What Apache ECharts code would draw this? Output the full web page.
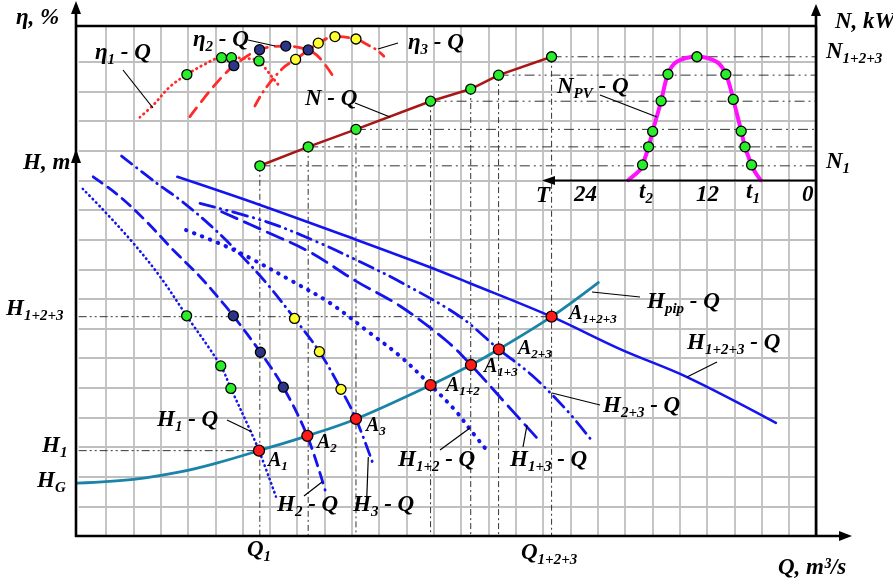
<!DOCTYPE html>
<html>
<head>
<meta charset="utf-8">
<script src="https://cdn.jsdelivr.net/npm/echarts@6/dist/echarts.min.js"></script>
<style>
  html, body { margin: 0; background: #fff; }
  #chart { width: 893px; height: 583px; }
</style>
</head>
<body>
<div id="chart"></div>
<script>
// units: one grid cell on each axis (Q across, H / η / N up)

// pump head curves
const h1Q = [[0.15, 11.71], [0.90, 11.00], [2.00, 9.88], [2.98, 8.75], [3.95, 7.43], [5.20, 5.74], [5.57, 4.98], [6.27, 3.58], [6.60, 2.88], [7.22, 1.33]];
const h2Q = [[0.53, 12.12], [1.51, 11.45], [2.49, 10.60], [3.46, 9.65], [4.44, 8.75], [5.29, 7.85], [5.66, 7.43], [6.65, 6.20], [7.49, 5.02], [8.36, 3.39], [9.02, 1.55]];
const h3Q = [[1.57, 12.82], [2.86, 11.90], [3.71, 11.34], [4.81, 10.49], [5.90, 9.51], [6.93, 8.47], [7.90, 7.34], [8.81, 6.22], [9.60, 4.95], [10.15, 3.95], [10.81, 2.34]];
const h12Q = [[3.93, 10.32], [5.28, 9.82], [6.27, 9.38], [7.73, 8.64], [9.20, 7.86], [10.66, 6.85], [11.76, 6.07], [12.88, 5.09], [13.77, 4.25], [14.40, 3.51], [14.87, 2.97]];
const h13Q = [[5.23, 10.94], [6.88, 10.26], [8.46, 9.58], [10.15, 8.60], [11.76, 7.76], [13.47, 6.58], [14.36, 5.77], [15.42, 4.69], [16.82, 3.26]];
const h23Q = [[4.44, 11.22], [6.88, 10.60], [8.71, 9.93], [10.30, 9.25], [11.76, 8.58], [13.96, 7.40], [15.38, 6.30], [16.58, 5.43], [17.86, 4.25], [18.84, 3.15]];
const h123Q = [[3.61, 12.12], [6.64, 11.17], [10.18, 9.99], [12.86, 9.07], [14.32, 8.53], [17.31, 7.40], [19.88, 6.28], [22.25, 5.37], [25.52, 3.82]];
const hPipQ = [[-0.10, 1.78], [2.00, 1.91], [3.71, 2.16], [5.05, 2.46], [6.60, 2.88], [8.37, 3.38], [10.15, 3.95], [12.88, 5.09], [14.36, 5.77], [15.38, 6.30], [17.31, 7.40], [19.02, 8.55]];

// efficiency curves
const eta1Q = [[2.24, 14.13], [2.73, 14.54], [3.34, 15.16], [3.96, 15.57], [4.56, 15.89], [5.23, 16.14], [5.59, 16.14], [6.02, 16.12], [6.60, 16.03], [6.88, 15.72], [7.12, 15.44], [7.31, 15.22]];
const eta2Q = [[4.07, 14.15], [4.93, 15.16], [5.68, 15.87], [6.62, 16.41], [7.58, 16.53], [8.40, 16.40], [8.83, 16.12], [9.32, 15.50]];
const eta3Q = [[6.45, 14.51], [6.82, 15.08], [7.49, 15.80], [7.94, 16.08], [8.77, 16.63], [9.38, 16.85], [10.15, 16.77], [10.52, 16.60], [10.91, 16.40], [11.17, 16.19]];

// power
const nQ = [[6.63, 12.49], [8.40, 13.13], [10.15, 13.72], [12.88, 14.67], [14.35, 15.08], [15.37, 15.55], [17.31, 16.17]];
const nPV = [[20.12, 12.01], [20.55, 12.35], [20.64, 12.52], [20.86, 13.13], [21.01, 13.65], [21.32, 14.68], [21.57, 15.58], [21.89, 16.00], [22.63, 16.17], [23.35, 16.00], [23.69, 15.58], [23.96, 14.73], [24.25, 13.66], [24.39, 13.13], [24.63, 12.52], [24.75, 12.29], [24.96, 12.01]];
const nPVPts = [[20.64, 12.52], [20.86, 13.13], [21.01, 13.65], [21.32, 14.68], [21.57, 15.58], [22.63, 16.17], [23.69, 15.58], [23.96, 14.73], [24.25, 13.66], [24.39, 13.13], [24.63, 12.52]];

// operating points A1, A2, A3, A1+2, A1+3, A2+3, A1+2+3
const aPts = [[6.60, 2.88], [8.37, 3.38], [10.15, 3.95], [12.88, 5.09], [14.36, 5.77], [15.38, 6.30], [17.31, 7.40]];
const aNames = ['1', '2', '3', '1+2', '1+3', '2+3', '1+2+3'];

// marked points
const greenPts = [[3.95, 7.43], [5.20, 5.74], [5.57, 4.98], [3.96, 15.57], [5.23, 16.14], [5.59, 16.14], [6.60, 16.03]];
const navyPts = [[5.66, 7.43], [6.65, 6.20], [7.49, 5.02], [5.68, 15.87], [6.62, 16.41], [7.58, 16.53], [8.40, 16.40]];
const yellowPts = [[7.90, 7.34], [8.81, 6.22], [9.60, 4.95], [7.94, 16.08], [8.77, 16.63], [9.38, 16.85], [10.15, 16.77]];

const BLUE = '#1414ee';
const RED = '#ff2a2a';
const F = 'Liberation Serif';

function curve(data, color, width, type, smooth) {
  return {
    type: 'line', data: data, symbol: 'none', smooth: smooth ? 0.35 : false, clip: false, silent: true, z: 3,
    lineStyle: { color: color, width: width, type: type, cap: 'round' }
  };
}
function dots(data, color, size) {
  return {
    type: 'scatter', data: data, symbolSize: size || 10, clip: false, silent: true, z: 6,
    itemStyle: { color: color, borderColor: '#000', borderWidth: 1.3, opacity: 1 }
  };
}
function ref(data, type) {
  return {
    type: 'line', data: data, symbol: 'none', clip: false, silent: true, z: 2,
    lineStyle: { color: '#333', width: 1, type: type }
  };
}

const series = [];
// guide lines
nQ.forEach(function (p, i) {
  series.push(ref([p, [p[0], 0]], [6, 3, 2, 3]));
  if (i !== 4) series.push(ref([p, [27, p[1]]], [10, 4, 2, 4, 2, 4]));
});
series.push(ref([[0, aPts[0][1]], aPts[0]], [8, 3, 2, 3, 2, 3]));
series.push(ref([[0, aPts[6][1]], aPts[6]], [8, 3, 2, 3, 2, 3]));

series.push(curve(h1Q, BLUE, 2.6, [0.5, 4.2], true));
series.push(curve(h2Q, BLUE, 2.8, [11, 7], true));
series.push(curve(h3Q, BLUE, 2.8, [13, 6, 0.5, 6], true));
series.push(curve(h12Q, BLUE, 4, [0.5, 8], true));
series.push(curve(h13Q, BLUE, 2.8, [17, 8], true));
series.push(curve(h23Q, BLUE, 2.8, [15, 6, 0.5, 6, 0.5, 6], true));
series.push(curve(h123Q, BLUE, 2.6, 'solid', true));
series.push(curve(hPipQ, '#1a84a8', 2.8, 'solid', true));

series.push(curve(eta1Q, RED, 2.8, [0.5, 4.5], true));
series.push(curve(eta2Q, RED, 2.8, [11, 8], true));
series.push(curve(eta3Q, RED, 2.8, [10, 6, 0.5, 6], true));

series.push(curve(nQ, '#a81616', 2.6, 'solid', false));
series.push(curve(nPV, '#ff10ff', 4, 'solid', true));

series.push(dots(greenPts, '#2aee2a'));
series.push(dots(navyPts, '#2c3587'));
series.push(dots(yellowPts, '#ffff30'));
series.push(dots(nQ, '#2aee2a'));
series.push(dots(nPVPts, '#2aee2a'));
series.push(dots(aPts, '#ff1a1a', 11));

// text
const R = {
  m: { fontFamily: F, fontSize: 23, fontWeight: 'bold', fontStyle: 'italic', color: '#000' },
  s: { fontFamily: F, fontSize: 15, fontWeight: 'bold', fontStyle: 'italic', color: '#000', padding: [14, 0, 0, 0] },
  a: { fontFamily: F, fontSize: 20, fontWeight: 'bold', fontStyle: 'italic', color: '#000' },
  as: { fontFamily: F, fontSize: 13, fontWeight: 'bold', fontStyle: 'italic', color: '#000', padding: [12, 0, 0, 0] }
};
function lab(x, y, text) {
  return { type: 'text', x: x, y: y, z: 60, silent: true, style: { text: text, rich: R, align: 'left', verticalAlign: 'middle' } };
}
function seg(x1, y1, x2, y2, w) {
  return { type: 'line', z: 50, silent: true, shape: { x1: x1, y1: y1, x2: x2, y2: y2 }, style: { stroke: '#000', lineWidth: w || 1.2 } };
}
function arrow(pts) {
  return { type: 'polygon', z: 51, silent: true, shape: { points: pts }, style: { fill: '#000' } };
}

const graphic = [
  // frame and axes
  seg(76, 537, 76, 10, 2.6), arrow([[76, 1], [71, 14], [81, 14]]),
  arrow([[76, 149], [71, 163], [81, 163]]),
  seg(76, 26, 816, 26, 2.4),
  seg(816, 537, 816, 10, 2.6), arrow([[816, 4], [811, 16], [821, 16]]),
  seg(75, 536, 842, 536, 2.6), arrow([[852, 536], [839, 531], [839, 541]]),
  seg(816, 180.5, 552, 180.5, 2.2), arrow([[542, 180.5], [555, 176], [555, 185]]),
  // leader lines
  seg(123, 70, 153, 108), seg(248, 40, 275, 46), seg(398, 43, 378, 49),
  seg(355, 103, 390, 117), seg(600, 95, 657, 117),
  seg(227, 420, 252, 432), seg(304, 496, 322, 482), seg(366.7, 500, 368.3, 457),
  seg(440, 450, 470, 428), seg(523, 447, 527, 425), seg(600, 405, 552, 393),
  seg(717, 362, 687, 377), seg(640, 297, 592, 292),
  // axis titles
  lab(16, 18, '{m|η, %}'), lab(23, 163, '{m|H, m}'),
  lab(6, 309, '{m|H}{s|1+2+3}'), lab(42, 446, '{m|H}{s|1}'), lab(37, 481, '{m|H}{s|G}'),
  lab(247, 550, '{m|Q}{s|1}'), lab(521, 553, '{m|Q}{s|1+2+3}'), lab(778, 568, '{m|Q, m³/s}'),
  lab(835, 22, '{m|N, kW}'), lab(826, 52, '{m|N}{s|1+2+3}'), lab(826, 162, '{m|N}{s|1}'),
  lab(536, 196, '{m|T}'), lab(574, 195, '{m|24}'), lab(639, 192, '{m|t}{s|2}'),
  lab(696, 195, '{m|12}'), lab(746, 192, '{m|t}{s|1}'), lab(802, 195, '{m|0}'),
  // curve names
  lab(95, 53, '{m|η}{s|1}{m| - Q}'), lab(193, 40, '{m|η}{s|2}{m| - Q}'), lab(408, 43, '{m|η}{s|3}{m| - Q}'),
  lab(305, 99, '{m|N - Q}'), lab(557, 87, '{m|N}{s|PV}{m| - Q}'),
  lab(157, 420, '{m|H}{s|1}{m| - Q}'), lab(277, 505, '{m|H}{s|2}{m| - Q}'), lab(353, 505, '{m|H}{s|3}{m| - Q}'),
  lab(398, 460, '{m|H}{s|1+2}{m| - Q}'), lab(510, 460, '{m|H}{s|1+3}{m| - Q}'),
  lab(603, 406, '{m|H}{s|2+3}{m| - Q}'), lab(687, 343, '{m|H}{s|1+2+3}{m| - Q}'),
  lab(647, 302, '{m|H}{s|pip}{m| - Q}')
];
// operating point names
const aLabelPos = [[268, 461], [317, 443], [366, 426], [446, 386], [484, 367], [518, 349], [569, 314]];
aNames.forEach(function (n, i) {
  graphic.push(lab(aLabelPos[i][0], aLabelPos[i][1], '{a|A}{as|' + n + '}'));
});

const gridAxis = {
  type: 'value', axisLine: { show: false }, axisTick: { show: false }, axisLabel: { show: false },
  splitLine: { show: true, showMinLine: false, lineStyle: { color: '#bfbfbf', width: 1.8 } }
};

const chart = echarts.init(document.getElementById('chart'));
chart.setOption({
  animation: false,
  backgroundColor: '#fff',
  grid: [
    { left: 78.7, right: 76.7, top: 61.8, bottom: 47 },
    { left: 78.7, right: 76.7, top: 26, height: 35.8 }
  ],
  xAxis: [
    Object.assign({}, gridAxis, { gridIndex: 0, min: 0, max: 27, interval: 1 }),
    Object.assign({}, gridAxis, { gridIndex: 1, min: 0, max: 27, interval: 1 })
  ],
  yAxis: [
    Object.assign({}, gridAxis, { gridIndex: 0, min: 0, max: 16, interval: 1 }),
    { gridIndex: 1, type: 'value', min: 0, max: 1, show: false }
  ],
  series: series,
  graphic: graphic
});
</script>
</body>
</html>
